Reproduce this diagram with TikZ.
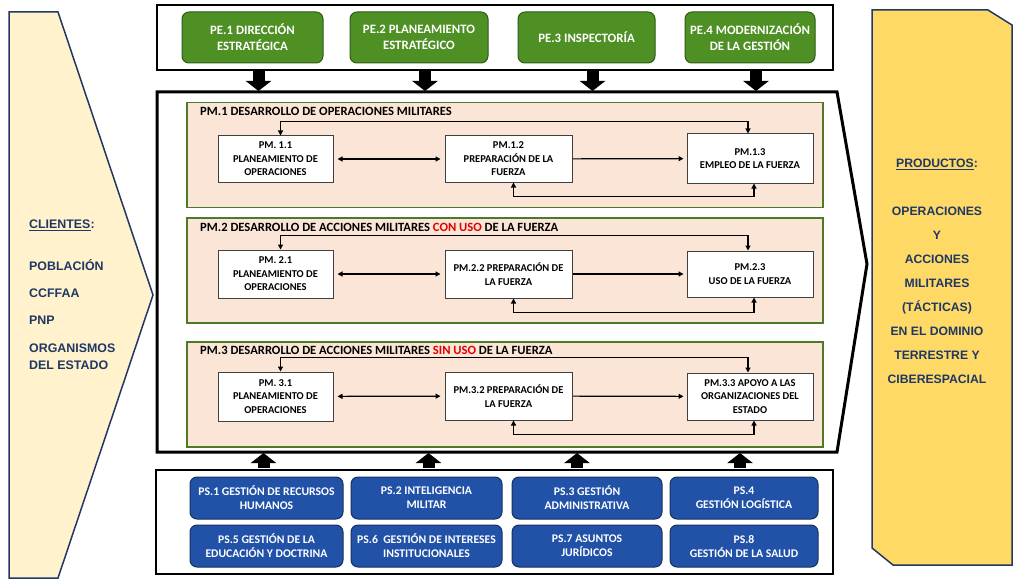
\documentclass[tikz,border=0pt]{standalone}
\usepackage{fontspec}
\setmainfont{Carlito}
\newfontfamily\arialfont{Liberation Sans}
\usetikzlibrary{arrows.meta,positioning,calc}

\definecolor{pegreen}{HTML}{4E9023}
\definecolor{pegreenline}{HTML}{2F5A17}
\definecolor{psblue}{HTML}{2152A8}
\definecolor{psblueline}{HTML}{17305F}
\definecolor{panelfill}{HTML}{FBE5D6}
\definecolor{panelline}{HTML}{4C7A26}
\definecolor{clientfill}{HTML}{FFF2CC}
\definecolor{productfill}{HTML}{FFD966}
\definecolor{navy}{HTML}{1F3864}
\definecolor{usored}{HTML}{E00000}

\tikzset{
  container/.style={draw=black, line width=2.5pt, fill=white},
  pebox/.style={draw=pegreenline, fill=pegreen, rounded corners=7pt, line width=1pt,
    minimum height=51, inner sep=0pt, text=white, align=center,
    font=\fontsize{12.8}{16}\selectfont\bfseries},
  psbox/.style={draw=psblueline, fill=psblue, rounded corners=7pt, line width=1pt,
    minimum height=42, inner sep=0pt, text=white, align=center,
    font=\fontsize{11.7}{14}\selectfont\bfseries},
  panel/.style={draw=panelline, fill=panelfill, line width=1.3pt, minimum width=636,
    minimum height=105, inner sep=0pt},
  paneltitle/.style={anchor=west, inner sep=0pt, font=\fontsize{12.6}{14}\selectfont\bfseries},
  pmbox/.style={draw=black!75, fill=white, line width=1pt, minimum height=46,
    inner sep=0pt, align=center, font=\fontsize{10.5}{13.5}\selectfont\bfseries},
  flow/.style={line width=1.2pt, {Triangle[length=5pt,width=5pt]}-{Triangle[length=5pt,width=5pt]}},
  blockdown/.style={line width=12pt, -{Triangle[length=10pt,width=25pt]}},
  clienttext/.style={anchor=west, inner sep=0pt, text=navy,
    font=\arialfont\fontsize{12.4}{17}\selectfont\bfseries, align=left},
}

\begin{document}
\begin{tikzpicture}[x=1pt, y=-1pt]
    \useasboundingbox (0,0) rectangle (1025,583);

    \draw[draw=navy, line width=1.5pt, fill=clientfill]
        (9,12) -- (58,12) -- (153,295) -- (58,578) -- (9,578) -- cycle;
    \draw[draw=navy, line width=1.5pt, fill=productfill]
        (872,10) -- (988,10) -- (1012,25) -- (1012,565) -- (893,565) -- (872,548) -- cycle;

    \node[clienttext] at (29,225)(cli){\underline{CLIENTES}:};
    \node[clienttext] at (29,265)(cli1){POBLACIÓN};
    \node[clienttext] at (29,293)(cli2){CCFFAA};
    \node[clienttext] at (29,320)(cli3){PNP};
    \node[clienttext] at (29,356.5)(cli4){ORGANISMOS\\DEL ESTADO};

    \node[text=navy, align=center, inner sep=0pt, font=\arialfont\fontsize{12.2}{24}\selectfont\bfseries]
        at (937,271)(prod){\underline{PRODUCTOS}:\\[24pt]OPERACIONES\\Y\\ACCIONES\\MILITARES\\(TÁCTICAS)\\EN EL DOMINIO\\TERRESTRE Y\\CIBERESPACIAL};

    \node[container, minimum width=676, minimum height=65] at (495,37.5)(topbox){};
    \node[pebox, minimum width=141] at (252.5,37.5)(pe1){PE.1 DIRECCIÓN\\ESTRATÉGICA};
    \node[pebox, minimum width=138] at (419,37.5)(pe2){PE.2 PLANEAMIENTO\\ESTRATÉGICO};
    \node[pebox, minimum width=137] at (586.5,37.5)(pe3){PE.3 INSPECTORÍA};
    \node[pebox, minimum width=130] at (750,37.5)(pe4){PE.4 MODERNIZACIÓN\\DE LA GESTIÓN};

    \draw[container, line width=3pt] (157,92) -- (837,92) -- (867,264) -- (837,452) -- (157,452) -- cycle;
    \coordinate (maintop) at (157,92);
    \coordinate (mainbot) at (157,452);

    \foreach \n in {pe1,pe2,pe3,pe4}
        \draw[blockdown] ($(\n |- topbox.south)+(6,0)$) -- ($(\n |- maintop)+(6,-1)$);

    \node[panel] at (505,155)(panel1){};
    \node[paneltitle] at (200,111)(title1){PM.1 DESARROLLO DE OPERACIONES MILITARES};
    \node[pmbox, minimum width=115] at (275.5,159)(pm11){PM. 1.1\\PLANEAMIENTO DE\\OPERACIONES};
    \node[pmbox, minimum width=127] at (508.5,159)(pm12){PM.1.2\\PREPARACIÓN DE LA\\FUERZA};
    \node[pmbox, minimum width=126, minimum height=49] at (750,158.5)(pm13){PM.1.3\\EMPLEO DE LA FUERZA};

    \node[panel] at (505,270.5)(panel2){};
    \node[paneltitle] at (200,227)(title2){PM.2 DESARROLLO DE ACCIONES MILITARES \textcolor{usored}{CON USO} DE LA FUERZA};
    \node[pmbox, minimum width=115, minimum height=48] at (275.5,274)(pm21){PM. 2.1\\PLANEAMIENTO DE\\OPERACIONES};
    \node[pmbox, minimum width=127, minimum height=48] at (508.5,274)(pm22){PM.2.2 PREPARACIÓN DE\\LA FUERZA};
    \node[pmbox, minimum width=126] at (750,274)(pm23){PM.2.3\\USO DE LA FUERZA};

    \node[panel] at (505,394.5)(panel3){};
    \node[paneltitle] at (200,350)(title3){PM.3 DESARROLLO DE ACCIONES MILITARES \textcolor{usored}{SIN USO} DE LA FUERZA};
    \node[pmbox, minimum width=115, minimum height=49] at (275.5,396.5)(pm31){PM. 3.1\\PLANEAMIENTO DE\\OPERACIONES};
    \node[pmbox, minimum width=127, minimum height=48] at (508.5,396)(pm32){PM.3.2 PREPARACIÓN DE\\LA FUERZA};
    \node[pmbox, minimum width=126, minimum height=47] at (750,396.5)(pm33){PM.3.3 APOYO A LAS\\ORGANIZACIONES DEL\\ESTADO};

    \foreach \r in {1,2,3}{
        \draw[flow, shorten <=4pt, shorten >=4pt] (pm\r1) -- (pm\r2);
        \draw[flow, {}-{Triangle[length=5pt,width=5pt]}, shorten >=3pt] (pm\r2) -- (pm\r3);
        \draw[flow] ([xshift=5pt]pm\r1.north) -- ++(0,-14) -| ([xshift=-2pt]pm\r3.north);
        \draw[flow] ([xshift=5pt]pm\r2.south) -- ++(0,14) -| ([xshift=4pt]pm\r3.south);
    }

    \node[container, minimum width=677, minimum height=104] at (494.5,522)(botbox){};
    \node[psbox, minimum width=153] at (266.5,498)(ps1){PS.1 GESTIÓN DE RECURSOS\\HUMANOS};
    \node[psbox, minimum width=151] at (426.5,498)(ps2){PS.2 INTELIGENCIA\\MILITAR};
    \node[psbox, minimum width=150] at (587,498)(ps3){PS.3 GESTIÓN\\ADMINISTRATIVA};
    \node[psbox, minimum width=148] at (744,498)(ps4){PS.4\\GESTIÓN LOGÍSTICA};
    \node[psbox, minimum width=153] at (266.5,546)(ps5){PS.5 GESTIÓN DE LA\\EDUCACIÓN Y DOCTRINA};
    \node[psbox, minimum width=151] at (426.5,546)(ps6){PS.6\ \ GESTIÓN DE INTERESES\\INSTITUCIONALES};
    \node[psbox, minimum width=150] at (587,546)(ps7){PS.7 ASUNTOS\\JURÍDICOS};
    \node[psbox, minimum width=148] at (744,546)(ps8){PS.8\\GESTIÓN DE LA SALUD};

    \foreach \n/\dx in {ps1/-3,ps2/2,ps3/-10,ps4/-4}
        \draw[blockdown] ($(\n |- botbox.north)+(\dx,-1)$) -- ($(\n |- mainbot)+(\dx,1)$);
\end{tikzpicture}
\end{document}
